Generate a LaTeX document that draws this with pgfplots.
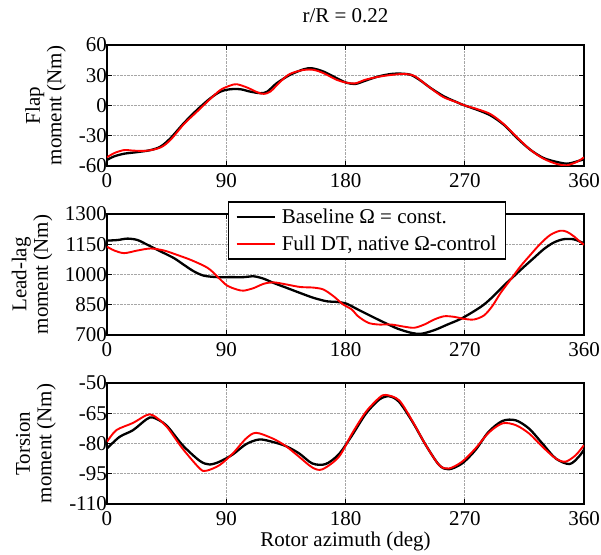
\documentclass[border=0pt]{standalone}
\usepackage{fontspec}
\setmainfont{Liberation Serif}
\usepackage{pgfplots}
\pgfplotsset{compat=1.18}
\newcommand{\bigf}{\fontsize{21}{21.5}\selectfont}
\pgfplotsset{
  myaxis/.style={
    width=477pt, height=121pt, scale only axis,
    xmin=0, xmax=360, xtick={0,90,180,270,360},
    grid=major, grid style={densely dotted, gray!70, line width=0.6pt},
    axis line style={line width=1.5pt},
    tick style={line width=1.2pt, black},
    tick align=inside, major tick length=5pt,
    tick label style={font=\bigf},
    xticklabel style={yshift=-4pt},
    yticklabel style={xshift=3.5pt},
    label style={font=\bigf},
    /pgf/number format/assume math mode=true,
    /pgf/number format/1000 sep={},
    ylabel style={align=center, anchor=center},
  },
  blk/.style={black, line width=2.3pt, smooth},
  rd/.style={red, line width=1.9pt, smooth},
}
\begin{document}
\begin{tikzpicture}
% ---------------- Flap ----------------
\begin{axis}[myaxis, at={(0,0)}, anchor=north west,
  ymin=-60, ymax=60, ytick={-60,-30,0,30,60},
  ylabel={Flap\\moment (Nm)},
  ylabel style={at={(axis description cs:-0.129,0.5)}},
  title={r/R = 0.22}, title style={font=\bigf, at={(axis description cs:0.5,1)}, anchor=center, yshift=23pt}]
\addplot[blk] coordinates {
(0,-54) (5.5,-50.4) (13,-47.8) (23,-46.2) (33,-44.2) (40.6,-40.6) (48,-32.3)
(58,-17.5) (68,-4.3) (78,7.2) (85.7,13.8) (93,16.1) (100.8,16.1) (108,13.8)
(116,12.2) (121,13.8) (128,22) (138,30.3) (148.4,35.9) (154.7,36.9) (163.5,33.6)
(173.5,27) (180.5,22.7) (187.5,21.4) (194.5,24.4) (204.5,28.7) (214.5,31.3)
(222,31.6) (229.5,30.3) (237,24.4) (244.5,17.1) (254.5,8.9) (264.5,3) (270,0)
(279.5,-4.3) (289.5,-9.9) (299.5,-19.1) (309.5,-32.3) (319.5,-43.9) (329.5,-52.1)
(339.5,-56) (347,-57.7) (352,-56.5) (357,-54.5) (360,-53.5)};
\addplot[rd] coordinates {
(0,-51.4) (5.5,-47.2) (13,-44.2) (20.6,-44.8) (30.6,-44.8) (40.6,-41.5) (48,-34)
(58,-18.5) (68,-6) (78,6.6) (85.7,15.5) (93,19.8) (98,21.1) (105.8,17.8)
(113.3,13.2) (118.3,11.5) (123.3,13.8) (130.9,23.7) (138,31.3) (148.4,35.3)
(156,35.3) (163.5,32) (173.5,25.4) (180.5,22.7) (187.5,22) (194.5,25.4)
(204.5,28.4) (214.5,30.3) (224.5,31.3) (232,29.3) (239.5,22) (247,14.5)
(254.5,7.9) (264.5,3) (270,0) (279.5,-3.6) (289.5,-8.6) (299.5,-18.5)
(309.5,-31.6) (319.5,-43.9) (329.5,-52.8) (339.5,-58) (347,-59.3) (354.5,-56) (360,-51.4)};
\end{axis}
% ---------------- Lead-lag ----------------
\begin{axis}[myaxis, at={(0,-169pt)}, anchor=north west,
  ymin=700, ymax=1300, ytick={700,850,1000,1150,1300},
  ylabel={Lead-lag\\moment (Nm)},
  ylabel style={at={(axis description cs:-0.157,0.5)}},
  legend style={at={(axis description cs:0.545,1.107)}, anchor=north,
    draw=black, line width=1.5pt, fill=white, font=\bigf,
    inner xsep=7pt, inner ysep=5pt, row sep=7pt, column sep=4pt,
    nodes={inner sep=2pt}},
  legend cell align=left,
  legend image code/.code={\draw[#1] (0pt,0pt) -- (38pt,0pt);}]
\addplot[blk] coordinates {
(0,1168) (8,1171) (15.5,1178) (23,1171) (30.6,1147) (40.6,1114) (50.6,1081)
(58,1048) (65.7,1015) (73.2,994) (83.2,987) (93.3,987) (103.3,987) (110.8,991)
(118.3,979) (125.8,958) (135.9,933) (145.9,908) (156,884) (166,867) (173.5,864)
(180.5,856) (189.5,826) (199.5,793) (209.5,761) (219.5,731) (229.5,711) (237,706)
(247,724) (257,752) (267,780) (277,818) (284.5,851) (292,895) (299.5,945)
(307,991) (314.5,1037) (322,1081) (329.5,1125) (337,1158) (344.5,1175)
(352,1175) (357,1163) (360,1155)};
\addlegendentry{Baseline Ω = const.}
\addplot[rd] coordinates {
(0,1138) (5.5,1119) (13,1106) (23,1119) (33,1129) (43,1119) (53,1097) (63,1073)
(73.2,1043) (78,1023) (84.5,982) (90.7,945) (98.3,925) (103.3,920) (110.8,933)
(118.3,954) (125.8,961) (135.9,950) (145.9,938) (156,935) (163.5,925) (171,892)
(178.5,850) (184.5,828) (189.5,793) (197,761) (204.5,752) (214.5,752) (224.5,741)
(232,736) (239.5,752) (247,777) (254.5,793) (262,790) (269.5,780) (277,777)
(284.5,797) (290.75,843) (297,908) (304.5,974) (312,1040) (319.5,1097)
(327,1152) (334.5,1196) (342,1217) (347,1212) (352,1191) (357,1163) (360,1147)};
\addlegendentry{Full DT, native Ω-control}
\end{axis}
% ---------------- Torsion ----------------
\begin{axis}[myaxis, at={(0,-338pt)}, anchor=north west,
  ymin=-110, ymax=-50, ytick={-110,-95,-80,-65,-50},
  ylabel={Torsion\\moment (Nm)},
  ylabel style={at={(axis description cs:-0.149,0.5)}},
  xlabel={Rotor azimuth (deg)},
  xlabel style={at={(axis description cs:0.5,0)}, anchor=center, yshift=-37pt}]
\addplot[blk] coordinates {
(0,-82.5) (9.5,-76.7) (19.6,-73.4) (29.6,-68.1) (34.7,-67.1) (44.7,-70.9)
(57,-80.8) (70,-88.6) (77.4,-90.4) (85,-89) (95,-85.4) (105,-80.3) (115,-78)
(125,-79.2) (135,-81.3) (145,-84.9) (155,-89.9) (165,-90.2) (175,-85.3)
(185,-75.9) (195.4,-65.2) (205.5,-58.2) (213,-56.6) (220.5,-59.4) (230.6,-69.3)
(240.6,-80.8) (250.7,-90.7) (258,-92.8) (268,-89.9) (278,-83.3) (288,-74.2)
(298.5,-68.8) (308.5,-68.5) (318.5,-72.6) (328.6,-80) (338.6,-87.4) (349,-90.2)
(356,-86.6) (360,-83)};
\addplot[rd] coordinates {
(0,-79.2) (7,-73.4) (19.6,-69.8) (29.6,-66) (34.7,-66) (44.7,-71.4) (57,-82.5)
(70,-92.4) (75,-93.5) (85,-90.7) (95,-84.9) (105,-77.5) (112.5,-74.7) (125,-77.5)
(135,-81.3) (145,-86.6) (155,-91.9) (162.5,-92.8) (175,-86.6) (185,-75)
(195.4,-64.3) (205.5,-57.3) (210.5,-55.9) (220.5,-58.6) (230.6,-69) (240.6,-80.8)
(250.7,-90.7) (258,-92.4) (268,-89) (278,-82.5) (288,-74.7) (298.5,-70)
(308.5,-70.9) (318.5,-75) (328.6,-81.6) (338.6,-87.4) (346,-89) (353.7,-85.8) (360,-80.8)};
\end{axis}
\pgfresetboundingbox
\path (-107pt,45pt) rectangle (494pt,-509pt);
\end{tikzpicture}
\end{document}
